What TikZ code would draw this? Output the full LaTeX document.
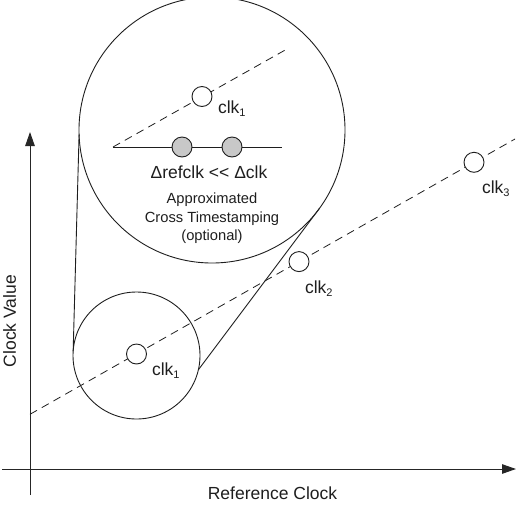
\documentclass[tikz,border=0pt]{standalone}
\usepackage{fontspec}
\setmainfont{Liberation Sans}
\usetikzlibrary{arrows.meta}
\definecolor{markgray}{RGB}{200,200,200}
\definecolor{inkc}{RGB}{30,30,30}
\newcommand\subsc[1]{\raisebox{-0.22em}{\fontsize{11}{11}\selectfont #1}}
\begin{document}
\begin{tikzpicture}[x=1pt,y=-1pt,
  lbl/.style={font=\fontsize{17.5}{21}\selectfont, text=inkc, inner sep=0pt, outer sep=0pt},
  smalltxt/.style={font=\fontsize{14.7}{18.5}\selectfont, text=inkc, align=center, inner sep=0pt},
  marker/.style={circle, draw=inkc, fill=white, minimum size=20pt, inner sep=0pt, line width=0.9pt},
  greymarker/.style={marker, fill=markgray},
  zoomc/.style={circle, draw=inkc, inner sep=0pt, outer sep=0pt, line width=0.9pt},
  axis/.style={line width=1pt, draw=black!85, -{Triangle[width=9.5pt,length=14pt]}},
  dline/.style={draw=inkc, dash pattern=on 8pt off 5.5pt, line width=0.8pt},
  conn/.style={draw=inkc, line width=0.9pt},
]
\useasboundingbox (0,0) rectangle (524,517);
% axes
\coordinate (yb) at (30,495);
\coordinate (yt) at (30,132);
\coordinate (xl) at (2,469);
\coordinate (xr) at (516,469);
\draw[axis] (yb) -- (yt);
\draw[axis] (xl) -- (xr);
% zoom circles
\node[zoomc, minimum size=127pt] (sc) at (136.5,355.5) {};
\node[zoomc, minimum size=266pt] (bc) at (212,130) {};
\draw[conn] (bc.182) -- (sc.176);
\draw[conn] (sc.-13) -- (bc.-36);
% main dashed line
\coordinate (ds) at (30,414.3);
\coordinate (de) at (515,139);
\draw[dline] (ds) -- (de);
\node[marker] (m1) at (136.5,354) {};
\node[marker] (m2) at (299,261.6) {};
\node[marker] (m3) at (474,162.3) {};
% inner content
\coordinate (is) at (113,147);
\coordinate (ie) at (287,49);
\coordinate (he) at (282,147);
\draw[dline] (is) -- (ie);
\draw[conn] (is) -- (he);
\node[marker] (im) at (202,96.5) {};
\node[greymarker] (g1) at (182,147) {};
\node[greymarker] (g2) at (232,147) {};
% labels
\node[lbl, anchor=base west] (l1) at (218,113) {clk\subsc{1}};
\node[lbl, anchor=base west] (l1b) at (152,375) {clk\subsc{1}};
\node[lbl, anchor=base west] (l2) at (305,293) {clk\subsc{2}};
\node[lbl, anchor=base west] (l3) at (482,193) {clk\subsc{3}};
\node[lbl, anchor=base] (dl) at (209,178) {Δrefclk <\kern0pt< Δclk};
\node[smalltxt] (ac) at (212,218.5) {Approximated\\Cross Timestamping\\(optional)};
\node[lbl, anchor=base] (xlab) at (272.5,499.3) {Reference Clock};
\node[lbl, anchor=base, rotate=90] (ylab) at (16,321) {Clock Value};
\end{tikzpicture}
\end{document}
